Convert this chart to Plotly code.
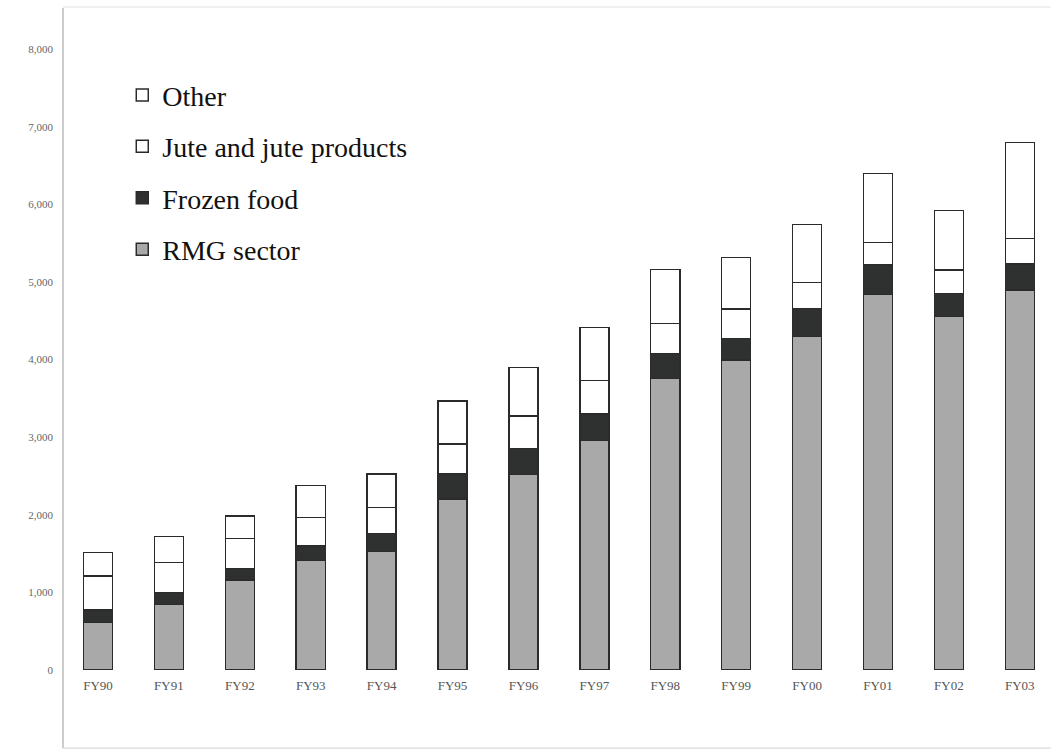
import plotly.graph_objects as go

years = ["FY90", "FY91", "FY92", "FY93", "FY94", "FY95", "FY96",
         "FY97", "FY98", "FY99", "FY00", "FY01", "FY02", "FY03"]
rmg = [610, 847, 1160, 1409, 1524, 2204, 2522, 2957, 3756, 3995, 4295, 4841, 4553, 4897]
frozen_food = [163, 149, 151, 189, 232, 322, 335, 342, 320, 279, 366, 378, 301, 335]
jute = [438, 392, 381, 365, 341, 386, 416, 434, 387, 378, 335, 287, 301, 331]
other = [301, 330, 293, 412, 429, 554, 623, 683, 701, 666, 748, 895, 764, 1232]
y_ticks = [0, 1000, 2000, 3000, 4000, 5000, 6000, 7000, 8000]

SERIF = "Liberation Serif, Times New Roman, serif"
series = [
    ("RMG sector", rmg, "#a9a9a9", 4),
    ("Frozen food", frozen_food, "#2e3130", 3),
    ("Jute and jute products", jute, "#ffffff", 2),
    ("Other", other, "#ffffff", 1),
]

fig = go.Figure()
for name, vals, col, rank in series:
    fig.add_trace(go.Bar(
        x=years, y=vals, name=name, legendgroup=name, legendrank=rank,
        marker=dict(color=col, line=dict(color="#2b2b2b", width=1.5)),
        width=0.41,
    ))

fig.update_layout(
    width=1051, height=753,
    barmode="stack",
    paper_bgcolor="white", plot_bgcolor="white",
    margin=dict(l=63, r=0, t=8, b=83),
    showlegend=True,
    legend=dict(
        x=0.06, y=0.906, xanchor="left", yanchor="top",
        traceorder="grouped", tracegroupgap=12,
        font=dict(family=SERIF, size=28, color="#111111"),
        bgcolor="rgba(0,0,0,0)", itemwidth=30,
    ),
    xaxis=dict(
        range=[-0.494, 13.44], showline=False, showgrid=False, ticks="",
        tickfont=dict(family=SERIF, size=13, color="#555555"),
        ticklabelstandoff=6,
    ),
    yaxis=dict(
        range=[0, 8531], tickvals=y_ticks, tickformat=",d",
        showline=False, showgrid=False, zeroline=False, ticks="",
        tickfont=dict(family=SERIF, size=11, color="#666666"),
        ticklabelstandoff=9,
    ),
    shapes=[
        dict(type="line", xref="paper", yref="paper", x0=0, x1=0, y0=-0.118, y1=1.0,
             line=dict(color="#9a9a9a", width=1)),
        dict(type="line", xref="paper", yref="paper", x0=0, x1=1, y0=1.0015, y1=1.0015,
             line=dict(color="#e2e2e2", width=1)),
        dict(type="line", xref="paper", yref="paper", x0=0, x1=1, y0=-0.118, y1=-0.118,
             line=dict(color="#d0d0d0", width=1)),
    ],
)

fig.write_html("out.html")
